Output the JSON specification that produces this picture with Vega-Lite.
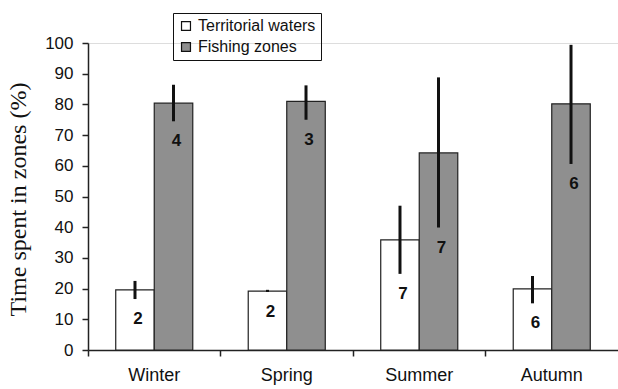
{
  "$schema": "https://vega.github.io/schema/vega-lite/v6.json",
  "autosize": {"type": "none"},
  "padding": {"left": 88, "top": 43, "right": 0, "bottom": 39},
  "width": 530,
  "height": 307,
  "background": "white",
  "config": {
    "axisY": {
      "titleFont": "Liberation Serif",
      "titleFontSize": 24,
      "titleFontWeight": "normal",
      "titleColor": "#111",
      "titleAngle": 270,
      "titleAlign": "center",
      "titleBaseline": "alphabetic",
      "titleX": -63,
      "titleY": 156,
      "labelOverlap": false,
      "labelFont": "Liberation Sans",
      "labelFontSize": 17,
      "labelColor": "#111",
      "labelPadding": 9,
      "tickSize": 6,
      "tickColor": "#222",
      "domainColor": "#222",
      "tickWidth": 1.5,
      "domainWidth": 1.5,
      "grid": false
    }
  },
  "data": {
    "values": [
      {"season": "Winter", "zone": "Territorial waters", "value": 19.6, "lo": 16.6, "hi": 22.5, "n": "2"},
      {"season": "Winter", "zone": "Fishing zones", "value": 80.4, "lo": 74.5, "hi": 86.4, "n": "4"},
      {"season": "Spring", "zone": "Territorial waters", "value": 19.2, "lo": 18.9, "hi": 19.6, "n": "2"},
      {"season": "Spring", "zone": "Fishing zones", "value": 81.0, "lo": 75.0, "hi": 86.2, "n": "3"},
      {"season": "Summer", "zone": "Territorial waters", "value": 35.9, "lo": 24.8, "hi": 47.0, "n": "7"},
      {"season": "Summer", "zone": "Fishing zones", "value": 64.2, "lo": 39.9, "hi": 88.8, "n": "7"},
      {"season": "Autumn", "zone": "Territorial waters", "value": 19.9, "lo": 15.2, "hi": 24.1, "n": "6"},
      {"season": "Autumn", "zone": "Fishing zones", "value": 80.2, "lo": 60.6, "hi": 99.4, "n": "6"}
    ]
  },
  "encoding": {
    "x": {
      "field": "season",
      "type": "nominal",
      "sort": ["Winter", "Spring", "Summer", "Autumn"],
      "scale": {"paddingInner": 0, "paddingOuter": 0},
      "axis": {
        "title": null,
        "bandPosition": 0,
        "labelOffset": 0,
        "labelAngle": 0,
        "labelFont": "Liberation Sans",
        "labelFontSize": 18,
        "labelColor": "#111",
        "labelPadding": 10,
        "tickSize": 6,
        "tickColor": "#222",
        "domainColor": "#222",
        "tickWidth": 1.5,
        "domainWidth": 1.5,
        "grid": false
      }
    },
    "xOffset": {
      "field": "zone",
      "type": "nominal",
      "sort": ["Territorial waters", "Fishing zones"],
      "scale": {"paddingInner": 0, "paddingOuter": 0.72}
    }
  },
  "layer": [
    {
      "mark": {"type": "bar", "stroke": "#222", "strokeWidth": 1.2},
      "encoding": {
        "y": {
          "field": "value",
          "type": "quantitative",
          "scale": {"domain": [0, 100], "nice": false},
          "axis": {"title": "Time spent in zones (%)", "values": [0, 10, 20, 30, 40, 50, 60, 70, 80, 90, 100]}
        },
        "fill": {
          "field": "zone",
          "type": "nominal",
          "scale": {"domain": ["Territorial waters", "Fishing zones"], "range": ["#ffffff", "#8f8f8f"]},
          "legend": {
            "title": null,
            "orient": "none",
            "legendX": 85,
            "legendY": -30,
            "strokeColor": "#111",
            "padding": 5,
            "labelFont": "Liberation Sans",
            "labelFontSize": 16,
            "labelColor": "#111",
            "labelOffset": 4,
            "rowPadding": 5,
            "symbolType": "square",
            "symbolSize": 80,
            "symbolStrokeColor": "#111",
            "symbolStrokeWidth": 1.2
          }
        }
      }
    },
    {
      "mark": {"type": "rule", "strokeWidth": 3, "color": "#111"},
      "encoding": {
        "y": {"field": "lo", "type": "quantitative", "axis": {"title": "Time spent in zones (%)", "values": [0, 10, 20, 30, 40, 50, 60, 70, 80, 90, 100]}},
        "y2": {"field": "hi"}
      }
    },
    {
      "mark": {"type": "text", "font": "Liberation Sans", "fontWeight": "bold", "fontSize": 17, "dy": 20, "dx": 3, "color": "#111", "baseline": "middle"},
      "encoding": {
        "y": {"field": "lo", "type": "quantitative", "axis": {"title": "Time spent in zones (%)", "values": [0, 10, 20, 30, 40, 50, 60, 70, 80, 90, 100]}},
        "text": {"field": "n"}
      }
    }
  ]
}
